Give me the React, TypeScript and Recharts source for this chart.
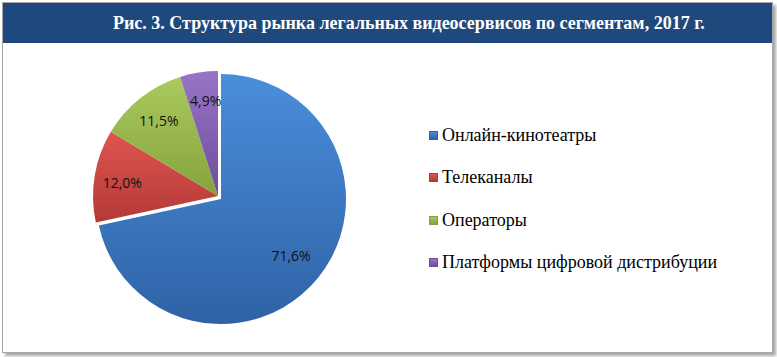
import { PieChart, Pie, Cell } from 'recharts';

const segments = ['Онлайн-кинотеатры', 'Телеканалы', 'Операторы', 'Платформы цифровой дистрибуции'];
const shares = [71.6, 12.0, 11.5, 4.9];
const colorsTop = ['#4a8edb', '#e05550', '#aac95e', '#9874c6'];
const colorsBottom = ['#2f62a5', '#b23a36', '#85a33c', '#6e4d9a'];
const title = 'Рис. 3. Структура рынка легальных видеосервисов по сегментам, 2017 г.';

const data = segments.map((name, i) => ({ name, value: shares[i] }));

const RADIAN = Math.PI / 180;
const serif = 'Times New Roman, Liberation Serif, serif';

const renderLabel = ({ cx, cy, midAngle, outerRadius, value, index }: any) => {
    const k = index === 0 ? 0.72 : 0.8;
    const r = outerRadius * k;
    const x = cx + r * Math.cos(-midAngle * RADIAN);
    const y = cy + r * Math.sin(-midAngle * RADIAN);
    return (
        <text x={x} y={y} textAnchor="middle" dominantBaseline="central" fill="#111" fontSize={14} fontFamily="'Open Sans', sans-serif">
            {value.toFixed(1).replace('.', ',')}%
        </text>
    );
};

export default function App() {
    const cx = 210;
    const cy = 148;
    return (
        <div style={{ position: 'absolute', left: 0, top: 0, width: 777, height: 357, background: '#fff' }}>
            <div
                style={{
                    position: 'absolute',
                    left: 2,
                    top: 2,
                    width: 769,
                    height: 349,
                    border: '1px solid #a6a6a6',
                    boxShadow: '3px 3px 3px rgba(0,0,0,0.35)',
                    background: '#fff',
                }}
            >
                <div
                    style={{
                        height: 40,
                        background: '#1f497d',
                        color: '#fff',
                        fontFamily: serif,
                        fontWeight: 'bold',
                        fontSize: 18,
                        lineHeight: '40px',
                        paddingLeft: 110,
                        whiteSpace: 'nowrap',
                    }}
                >
                    {title}
                </div>
                <PieChart width={769} height={309}>
                    <defs>
                        {segments.map((_, i) => (
                            <linearGradient key={i} id={`slice-${i}`} x1="0" y1="0" x2="0" y2="1">
                                <stop offset="0%" stopColor={colorsTop[i]} />
                                <stop offset="100%" stopColor={colorsBottom[i]} />
                            </linearGradient>
                        ))}
                    </defs>
                    <Pie
                        data={data}
                        dataKey="value"
                        nameKey="name"
                        cx={cx}
                        cy={cy}
                        outerRadius={125}
                        startAngle={90}
                        endAngle={-270}
                        stroke="none"
                        isAnimationActive={false}
                    >
                        {data.map((_, i) => (
                            <Cell key={i} fill={i === 0 ? 'transparent' : `url(#slice-${i})`} />
                        ))}
                    </Pie>
                    <Pie
                        data={data}
                        dataKey="value"
                        nameKey="name"
                        cx={cx + 3}
                        cy={cy + 3}
                        outerRadius={125}
                        startAngle={90}
                        endAngle={-270}
                        stroke="none"
                        label={renderLabel}
                        labelLine={false}
                        isAnimationActive={false}
                    >
                        {data.map((_, i) => (
                            <Cell key={i} fill={i === 0 ? 'url(#slice-0)' : 'transparent'} />
                        ))}
                    </Pie>
                </PieChart>
                <div
                    style={{
                        position: 'absolute',
                        left: 426,
                        top: 111,
                        fontFamily: serif,
                        fontSize: 18,
                        color: '#000',
                    }}
                >
                    {segments.map((s, i) => (
                        <div key={s} style={{ display: 'flex', alignItems: 'center', height: 42.5 }}>
                            <span
                                style={{
                                    display: 'inline-block',
                                    width: 7,
                                    height: 7,
                                    marginRight: 4,
                                    background: `linear-gradient(${colorsTop[i]}, ${colorsBottom[i]})`,
                                    border: `1px solid ${colorsBottom[i]}`,
                                }}
                            />
                            {s}
                        </div>
                    ))}
                </div>
            </div>
        </div>
    );
}
